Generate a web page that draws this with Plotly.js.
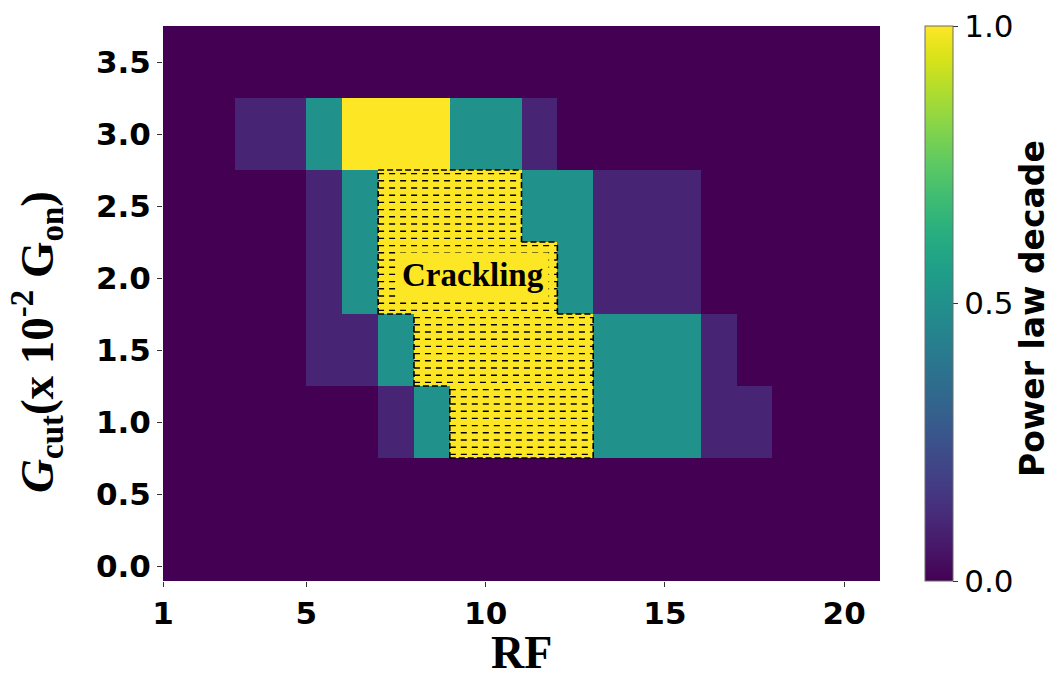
<!DOCTYPE html>
<html>
<head>
<meta charset="utf-8">
<script src="https://cdn.plot.ly/plotly-3.0.1.min.js"></script>
<style>html,body{margin:0;padding:0;background:#fff;}#chart{width:1048px;height:673px;}</style>
</head>
<body>
<div id="chart"></div>
<script>
// RF cells: each cell spans [rf, rf+1]
const rfStarts = [1,2,3,4,5,6,7,8,9,10,11,12,13,14,15,16,17,18,19,20];
// G_cut row centres (x 10^-2 G_on)
const gcut = [0.0, 0.5, 1.0, 1.5, 2.0, 2.5, 3.0, 3.5];
// Power law decade per row (same order as gcut), one value per RF cell
const row00 = [0,0,0,0,0,0,0,0,0,0,0,0,0,0,0,0,0,0,0,0];
const row05 = [0,0,0,0,0,0,0,0,0,0,0,0,0,0,0,0,0,0,0,0];
const row10 = [0,0,0,0,0,0,0.1,0.5,1,1,1,1,0.5,0.5,0.5,0.1,0.1,0,0,0];
const row15 = [0,0,0,0,0.1,0.1,0.5,1,1,1,1,1,0.5,0.5,0.5,0.1,0,0,0,0];
const row20 = [0,0,0,0,0.1,0.5,1,1,1,1,1,0.5,0.1,0.1,0.1,0,0,0,0,0];
const row25 = [0,0,0,0,0.1,0.5,1,1,1,1,0.5,0.5,0.1,0.1,0.1,0,0,0,0,0];
const row30 = [0,0,0.1,0.1,0.5,1,1,1,0.5,0.5,0.1,0,0,0,0,0,0,0,0,0];
const row35 = [0,0,0,0,0,0,0,0,0,0,0,0,0,0,0,0,0,0,0,0];
const zRows = [row00,row05,row10,row15,row20,row25,row30,row35];
// rows in which full-decade cells form the "Crackling" region
const cracklingRows = [1.0, 1.5, 2.0, 2.5];
const cracklingLabel = 'Crackling';
const cbTicks = [0, 0.5, 1.0];
const cbTickText = ['0.0', '0.5', '1.0'];
const xTicks = [1, 5, 10, 15, 20];
const yTicks = [0.0, 0.5, 1.0, 1.5, 2.0, 2.5, 3.0, 3.5];
const yTickText = ['0.0','0.5','1.0','1.5','2.0','2.5','3.0','3.5'];

const CELL_W = 1, CELL_H = 0.5, HATCH_N = 10;
const xCenters = rfStarts.map(v => v + CELL_W/2);

// mask of crackling cells
const mask = gcut.map((g, r) => zRows[r].map(v => cracklingRows.includes(g) && v === 1));
const isM = (r, c) => r >= 0 && r < gcut.length && c >= 0 && c < rfStarts.length && mask[r][c];

// hatch lines (horizontal) over each contiguous run
const hx = [], hy = [];
gcut.forEach((g, r) => {
  let c = 0;
  while (c < rfStarts.length) {
    if (mask[r][c]) {
      let e = c;
      while (e + 1 < rfStarts.length && mask[r][e+1]) e++;
      const x0 = rfStarts[c], x1 = rfStarts[e] + CELL_W;
      for (let k = 0; k < HATCH_N; k++) {
        const yy = g - CELL_H/2 + (k + 0.5) * CELL_H / HATCH_N;
        hx.push(x0, x1, null); hy.push(yy, yy, null);
      }
      c = e + 1;
    } else c++;
  }
});
// boundary of the region
const bx = [], by = [];
gcut.forEach((g, r) => {
  rfStarts.forEach((s, c) => {
    if (!mask[r][c]) return;
    const x0 = s, x1 = s + CELL_W, y0 = g - CELL_H/2, y1 = g + CELL_H/2;
    if (!isM(r+1, c)) { bx.push(x0, x1, null); by.push(y1, y1, null); }
    if (!isM(r-1, c)) { bx.push(x0, x1, null); by.push(y0, y0, null); }
    if (!isM(r, c-1)) { bx.push(x0, x0, null); by.push(y0, y1, null); }
    if (!isM(r, c+1)) { bx.push(x1, x1, null); by.push(y0, y1, null); }
  });
});

const traces = [
  {
    type: 'heatmap', x: xCenters, y: gcut, z: zRows,
    colorscale: 'Viridis', zmin: 0, zmax: 1, hoverinfo: 'skip',
    colorbar: {
      x: 1.0628, xanchor: 'left', xpad: 0, y: 0.5, yanchor: 'middle', ypad: 0,
      len: 1, lenmode: 'fraction', thickness: 28, thicknessmode: 'pixels',
      outlinewidth: 1, outlinecolor: '#6b6b6b',
      tickmode: 'array', tickvals: cbTicks, ticktext: cbTickText,
      ticks: 'outside', ticklen: 5, tickcolor: '#333', tickwidth: 1,
      tickfont: {family: 'DejaVu Sans', size: 31, color: '#000'}
    }
  },
  {
    type: 'scatter', mode: 'lines', x: hx, y: hy, hoverinfo: 'skip', showlegend: false,
    line: {color: '#000', width: 1.4, dash: '6px,5px'}
  },
  {
    type: 'scatter', mode: 'lines', x: bx, y: by, hoverinfo: 'skip', showlegend: false,
    line: {color: '#000', width: 1.6, dash: '6px,3px'}
  }
];

const tickFont = {family: 'DejaVu Sans', size: 31, color: '#000', weight: 'bold'};
const layout = {
  width: 1048, height: 673,
  margin: {l: 163, r: 168, t: 26, b: 92},
  paper_bgcolor: '#fff', plot_bgcolor: '#440154',
  showlegend: false,
  xaxis: {
    range: [1, 21], tickmode: 'array', tickvals: xTicks, ticktext: xTicks.map(String),
    ticks: 'outside', ticklen: 5, tickcolor: '#333', showgrid: false, zeroline: false,
    tickfont: tickFont, showline: false
  },
  yaxis: {
    range: [-0.104, 3.75], tickmode: 'array', tickvals: yTicks, ticktext: yTickText,
    ticks: 'outside', ticklen: 5, tickcolor: '#333', showgrid: false, zeroline: false,
    tickfont: tickFont, showline: false
  },
  annotations: [
    {
      x: 9.65, y: 2.02, xref: 'x', yref: 'y', text: '<b>' + cracklingLabel + '</b>', showarrow: false,
      font: {family: 'Liberation Serif', size: 33, color: '#000'},
      bgcolor: '#fde725', borderpad: 4, xanchor: 'center', yanchor: 'middle'
    },
    {
      x: 0.5, y: -0.128, xref: 'paper', yref: 'paper', text: '<b>RF</b>', showarrow: false,
      font: {family: 'Liberation Serif', size: 46, color: '#000'}, xanchor: 'center', yanchor: 'middle'
    },
    {
      x: -0.175, y: 0.43, xref: 'paper', yref: 'paper', textangle: -90, showarrow: false,
      text: '<b><i>G</i><sub>cut</sub>(x 10<sup>-2</sup> G<sub>on</sub>)</b>',
      font: {family: 'Liberation Serif', size: 47, color: '#000'}, xanchor: 'center', yanchor: 'middle'
    },
    {
      x: 1.212, y: 0.49, xref: 'paper', yref: 'paper', textangle: -90, showarrow: false,
      text: '<b>Power law decade</b>',
      font: {family: 'DejaVu Sans', size: 33, color: '#000'}, xanchor: 'center', yanchor: 'middle'
    }
  ]
};

Plotly.newPlot('chart', traces, layout, {displayModeBar: false, staticPlot: true});
</script>
</body>
</html>
